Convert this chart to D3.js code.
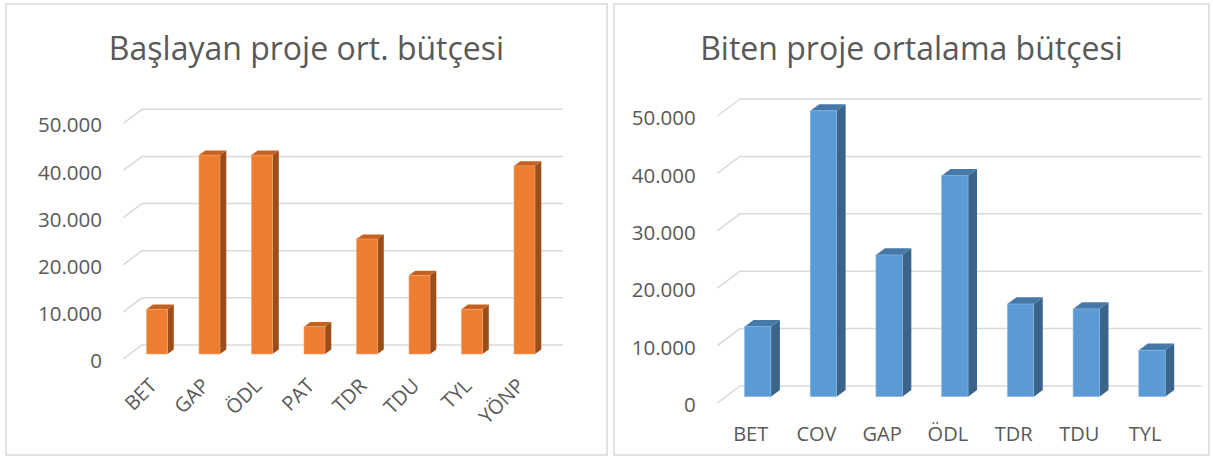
<!DOCTYPE html>
<html>
<head>
<meta charset="utf-8">
<script src="https://cdn.jsdelivr.net/npm/d3@7"></script>
<style>
  body { margin: 0; background: #ffffff; }
  svg { display: block; font-family: "Open Sans", "Noto Sans", sans-serif; }
</style>
</head>
<body>
<svg id="chart" width="1213" height="457"></svg>
<script>
// data
var startCategories = ["BET", "GAP", "ÖDL", "PAT", "TDR", "TDU", "TYL", "YÖNP"];
var startValues = [9500, 42200, 42200, 5800, 24400, 16700, 9500, 39900];
var endCategories = ["BET", "COV", "GAP", "ÖDL", "TDR", "TDU", "TYL"];
var endValues = [12200, 49800, 24700, 38500, 16150, 15300, 8100];
var yTicks = [0, 10000, 20000, 30000, 40000, 50000];

var svg = d3.select("#chart");
var textColor = "#595959", gridColor = "#d9d9d9";
var fmt = function (v) { return d3.format(",")(v).replace(/,/g, "."); };

function drawPanel(opts) {
    var g = svg.append("g");

    g.append("rect")
        .attr("x", opts.box[0]).attr("y", opts.box[1])
        .attr("width", opts.box[2]).attr("height", opts.box[3])
        .attr("fill", "#fff").attr("stroke", gridColor).attr("stroke-width", 1.5);

    g.append("text")
        .attr("x", opts.box[0] + opts.box[2] / 2)
        .attr("y", 60)
        .attr("text-anchor", "middle")
        .attr("font-size", 32)
        .attr("fill", textColor)
        .text(opts.title);

    var y = d3.scaleLinear().domain([0, 50000]).range(opts.yRange);
    var x = d3.scalePoint().domain(opts.categories).range(opts.xRange);
    var fd = opts.floor; // [dx, dy] from back wall to front edge of floor

    // gridlines on back wall + floor diagonal
    g.selectAll("path.grid")
        .data(yTicks)
        .join("path")
        .attr("class", "grid")
        .attr("fill", "none")
        .attr("stroke", gridColor)
        .attr("stroke-width", 1.5)
        .attr("d", function (t) {
            var yy = y(t);
            return "M" + (opts.wall[0] + fd[0]) + "," + (yy + fd[1]) +
                "L" + opts.wall[0] + "," + yy + "L" + opts.wall[1] + "," + yy;
        });

    g.selectAll("text.ytick")
        .data(yTicks)
        .join("text")
        .attr("class", "ytick")
        .attr("x", opts.yLabelX)
        .attr("y", function (t) { return y(t) + fd[1] + 2; })
        .attr("dy", "0.35em")
        .attr("text-anchor", "end")
        .attr("font-size", 20.5)
        .attr("fill", textColor)
        .text(fmt);

    var w = opts.barWidth, off = opts.frontOffset, dp = opts.depth;
    var bars = g.selectAll("g.bar")
        .data(opts.values)
        .join("g")
        .attr("class", "bar");

    bars.each(function (v, i) {
        var b = d3.select(this),
            x0 = x(opts.categories[i]) - w / 2,
            x1 = x0 + w,
            yt = y(v) + off,
            yb = y(0) + off;
        // right side face
        b.append("path")
            .attr("fill", opts.colors.side)
            .attr("d", "M" + x1 + "," + yt + "L" + (x1 + dp[0]) + "," + (yt + dp[1]) +
                "L" + (x1 + dp[0]) + "," + (yb + dp[1]) + "L" + x1 + "," + yb + "Z");
        // top face
        b.append("path")
            .attr("fill", opts.colors.top)
            .attr("d", "M" + x0 + "," + yt + "L" + (x0 + dp[0]) + "," + (yt + dp[1]) +
                "L" + (x1 + dp[0]) + "," + (yt + dp[1]) + "L" + x1 + "," + yt + "Z");
        // front face
        b.append("rect")
            .attr("x", x0).attr("y", yt)
            .attr("width", w).attr("height", yb - yt)
            .attr("fill", opts.colors.front)
            .attr("stroke", opts.colors.edge)
            .attr("stroke-width", 0.6);
    });

    g.selectAll("text.xtick")
        .data(opts.categories)
        .join("text")
        .attr("class", "xtick")
        .attr("font-size", 20)
        .attr("fill", textColor)
        .attr("text-anchor", opts.rotate ? "end" : "middle")
        .attr("transform", function (c) {
            var px = x(c) + opts.xLabelOffset[0], py = opts.xLabelOffset[1];
            return "translate(" + px + "," + py + ")" + (opts.rotate ? " rotate(-45)" : "");
        })
        .text(function (c) { return c; });
}

drawPanel({
    box: [6, 4, 601, 451],
    title: "Başlayan proje ort. bütçesi",
    categories: startCategories,
    values: startValues,
    yRange: [345, 109.3],
    xRange: [157, 524.5],
    wall: [142, 563],
    floor: [-18.7, 14],
    yLabelX: 102,
    barWidth: 21,
    frontOffset: 9,
    depth: [6.3, -4.6],
    colors: { front: "#ed7d31", top: "#c4611f", side: "#9c4e1a", edge: "#f4a774" },
    rotate: true,
    xLabelOffset: [1, 387]
});

drawPanel({
    box: [614, 4, 595, 451],
    title: "Biten proje ortalama bütçesi",
    categories: endCategories,
    values: endValues,
    yRange: [386, 99],
    xRange: [757.7, 1152],
    wall: [740, 1201.7],
    floor: [-22.7, 17],
    yLabelX: 695.7,
    barWidth: 26.4,
    frontOffset: 10.7,
    depth: [9, -6.7],
    colors: { front: "#5b9bd5", top: "#4679a8", side: "#3a6489", edge: "#8fbbe3" },
    rotate: false,
    xLabelOffset: [-7, 440.7]
});
</script>
</body>
</html>
